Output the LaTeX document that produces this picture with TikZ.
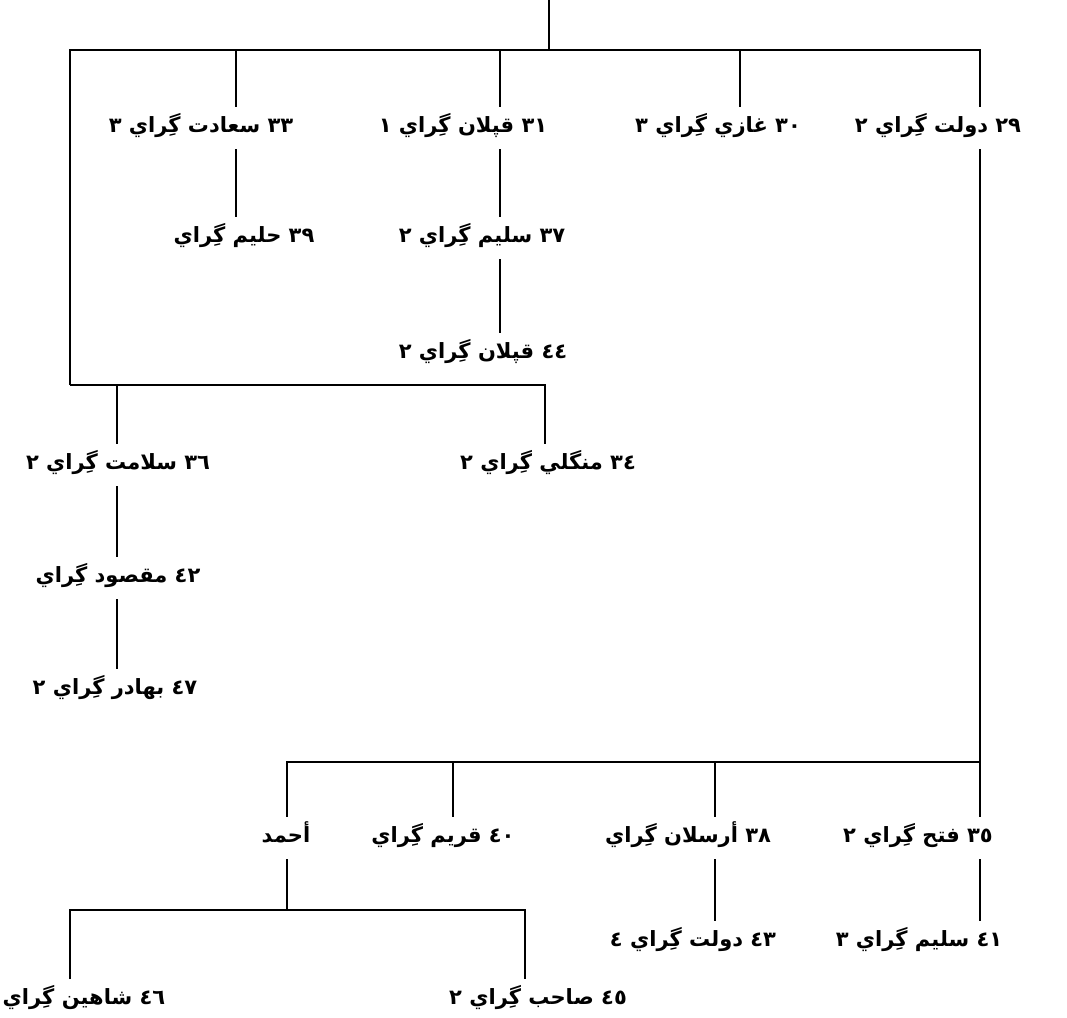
\documentclass[tikz,border=0pt]{standalone}
\usepackage{fontspec}
\newfontfamily\arabicfont[Script=Arabic]{DejaVu Sans}
\TeXXeTstate=1
\newcommand\labfont{\arabicfont\bfseries\fontsize{21}{25}\selectfont}
\newcommand\ar[1]{\beginR #1\endR}
\newcommand\nm[1]{\beginL #1\endL{}}
\begin{document}
\begin{tikzpicture}[x=1pt,y=-1pt,line width=2pt,
  lab/.style={font=\labfont,inner xsep=0pt,inner ysep=10pt,text height=14pt,text depth=6pt,anchor=center}]
\useasboundingbox (0,0) rectangle (1067,1017);
% labels
\node[lab] (n33) at (201,128) {\ar{\nm{٣٣} سعادت گِراي ٣}};
\node[lab] (n31) at (463,128) {\ar{\nm{٣١} قپلان گِراي ١}};
\node[lab] (n30) at (718,128) {\ar{\nm{٣٠} غازي گِراي ٣}};
\node[lab] (n29) at (938,128) {\ar{\nm{٢٩} دولت گِراي ٢}};
\node[lab] (n39) at (244,238) {\ar{\nm{٣٩} حليم گِراي}};
\node[lab] (n37) at (482,238) {\ar{\nm{٣٧} سليم گِراي ٢}};
\node[lab] (n44) at (483,354) {\ar{\nm{٤٤} قپلان گِراي ٢}};
\node[lab] (n36) at (118,465) {\ar{\nm{٣٦} سلامت گِراي ٢}};
\node[lab] (n34) at (548,465) {\ar{\nm{٣٤} منگلي گِراي ٢}};
\node[lab] (n42) at (118,578) {\ar{\nm{٤٢} مقصود گِراي}};
\node[lab] (n47) at (115,690) {\ar{\nm{٤٧} بهادر گِراي ٢}};
\node[lab] (nA) at (286,838) {\ar{أحمد}};
\node[lab] (n40) at (443,838) {\ar{\nm{٤٠} قريم گِراي}};
\node[lab] (n38) at (688,838) {\ar{\nm{٣٨} أرسلان گِراي}};
\node[lab] (n35) at (918,838) {\ar{\nm{٣٥} فتح گِراي ٢}};
\node[lab] (n43) at (693,942) {\ar{\nm{٤٣} دولت گِراي ٤}};
\node[lab] (n41) at (919,942) {\ar{\nm{٤١} سليم گِراي ٣}};
\node[lab] (n46) at (84,1000) {\ar{\nm{٤٦} شاهين گِراي}};
\node[lab] (n45) at (538,1000) {\ar{\nm{٤٥} صاحب گِراي ٢}};
% junction coordinates
\coordinate (top) at (549,0);
\coordinate (jtop) at (549,50);
\coordinate (jL) at (70,50);
\coordinate (jR) at (980,50);
\coordinate (c33) at (236,50);
\coordinate (c31) at (500,50);
\coordinate (c30) at (740,50);
\coordinate (kL) at (70,385);
\coordinate (kR) at (545,385);
\coordinate (c36) at (117,385);
\coordinate (m29) at (980,762);
\coordinate (mA) at (287,762);
\coordinate (c40) at (453,762);
\coordinate (c38) at (715,762);
\coordinate (pA) at (287,910);
\coordinate (pL) at (70,910);
\coordinate (pR) at (525,910);
% connectors
\draw (top) -- (jtop);
\draw (kL) -- (jL) -- (jR) -- (n29.north -| jR);
\draw (c33) -- (n33.north -| c33);
\draw (c31) -- (n31.north -| c31);
\draw (c30) -- (n30.north -| c30);
\draw (n33.south -| c33) -- (n39.north -| c33);
\draw (n31.south -| c31) -- (n37.north -| c31);
\draw (n37.south -| c31) -- (n44.north -| c31);
\draw (kL) -- (kR) -- (n34.north -| kR);
\draw (c36) -- (n36.north -| c36);
\draw (n36.south -| c36) -- (n42.north -| c36);
\draw (n42.south -| c36) -- (n47.north -| c36);
\draw (n29.south -| jR) -- (m29) -- (n35.north -| m29);
\draw (m29) -- (mA) -- (nA.north -| mA);
\draw (c40) -- (n40.north -| c40);
\draw (c38) -- (n38.north -| c38);
\draw (n38.south -| c38) -- (n43.north -| c38);
\draw (n35.south -| m29) -- (n41.north -| m29);
\draw (nA.south -| pA) -- (pA);
\draw (n46.north -| pL) -- (pL) -- (pR) -- (n45.north -| pR);
\end{tikzpicture}
\end{document}
